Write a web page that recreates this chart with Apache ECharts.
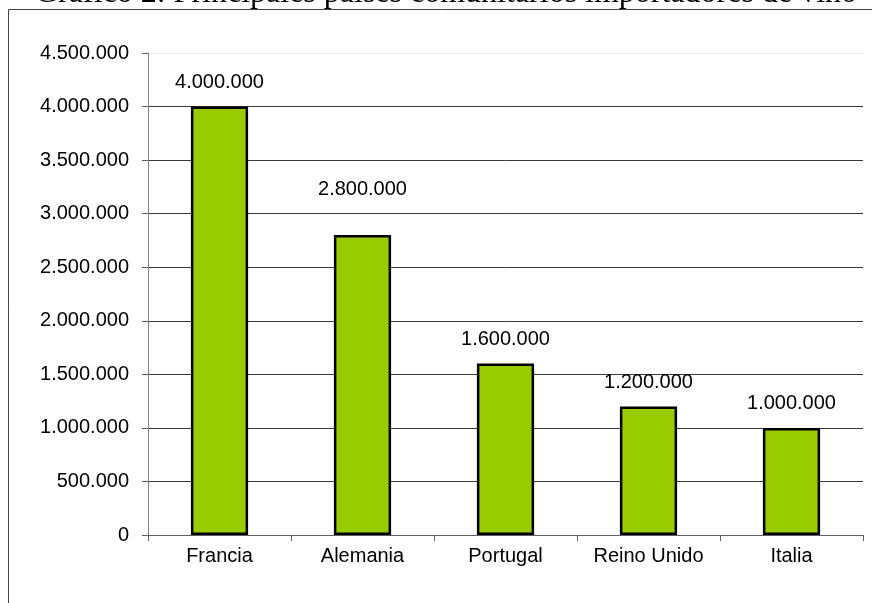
<!DOCTYPE html>
<html><head><meta charset="utf-8">
<script src="https://cdn.jsdelivr.net/npm/echarts@6/dist/echarts.min.js"></script>
<style>html,body{margin:0;padding:0;background:#fff}#c{width:872px;height:603px}</style>
</head><body><div id="c"></div>
<script>
const title = 'Gráfico 2: Principales países comunitarios importadores de vino';
const categories = ['Francia', 'Alemania', 'Portugal', 'Reino Unido', 'Italia'];
const values = [4000000, 2800000, 1600000, 1200000, 1000000];
const yMin = 0, yMax = 4500000, yStep = 500000;

const fmt = v => String(Math.round(v)).replace(/\B(?=(\d{3})+(?!\d))/g, '.');
const FONT = 'Liberation Sans, Arial, sans-serif';
const nLines = Math.round((yMax - yMin) / yStep) + 1;
const gridColors = Array.from({ length: nLines }, (_, i) => i === nLines - 1 ? '#e8e8e8' : '#3a3a3a');

const chart = echarts.init(document.getElementById('c'));
chart.setOption({
  animation: false,
  graphic: [
    { type: 'text', x: 35, y: -6, style: { text: title, font: '32px "Liberation Serif", "Times New Roman", serif', fill: '#000', verticalAlign: 'middle' } },
    { type: 'polyline', shape: { points: [[8.5, 603], [8.5, 9.5], [872, 9.5]] }, style: { stroke: '#444', lineWidth: 1, fill: null } }
  ],
  grid: { left: 148, right: 9, top: 53, bottom: 68, containLabel: false },
  xAxis: {
    type: 'category', data: categories,
    axisLine: { lineStyle: { color: '#606060', width: 1 } },
    axisTick: { show: true, interval: 0, alignWithLabel: false, length: 6, lineStyle: { color: '#606060' } },
    axisLabel: { interval: 0, hideOverlap: false, color: '#000', fontFamily: FONT, fontSize: 20, margin: 11 },
    splitLine: { show: false }
  },
  yAxis: {
    type: 'value', min: yMin, max: yMax, interval: yStep,
    axisLine: { show: true, lineStyle: { color: '#808080', width: 1 } },
    axisTick: { show: true, length: 6, lineStyle: { color: '#606060' } },
    axisLabel: { color: '#000', fontFamily: FONT, fontSize: 20, margin: 19, formatter: fmt },
    splitLine: { show: true, lineStyle: { color: gridColors, width: 1 } }
  },
  series: [{
    type: 'bar', barWidth: '40%',
    data: values.map((v, i) => ({
      value: v,
      label: i === 1 ? { distance: 36 } : undefined
    })),
    itemStyle: { color: '#99cc00', borderColor: '#000', borderWidth: 2.5 },
    label: { show: true, position: 'top', distance: 14, color: '#000', fontFamily: FONT, fontSize: 20, formatter: p => fmt(p.value) }
  }]
});
</script></body></html>
